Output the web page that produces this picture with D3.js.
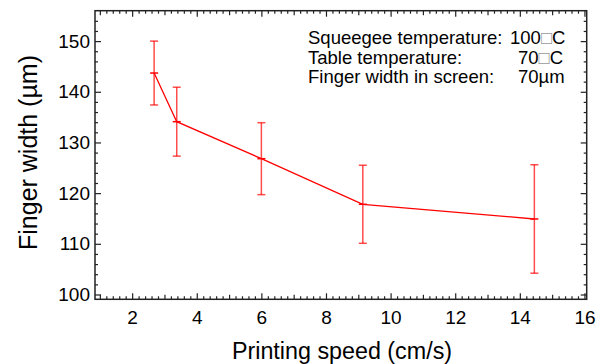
<!DOCTYPE html>
<html>
<head>
<meta charset="utf-8">
<script src="https://cdn.jsdelivr.net/npm/d3@7"></script>
<style>
    body { margin: 0; background: #fff; }
    text { font-family: "Liberation Sans", Arial, sans-serif; fill: #000; }
</style>
</head>
<body>
<div id="chart"></div>
<script>
// data
var speed = [2.68, 3.38, 6.0, 9.14, 14.45];
var fingerWidth = [143.7, 134.1, 126.8, 117.8, 114.9];
var errWidth = [6.3, 6.8, 7.1, 7.7, 10.7];

var xTicks = [2, 4, 6, 8, 10, 12, 14, 16];
var yTicks = [100, 110, 120, 130, 140, 150];

var noteLabels = ["Squeegee temperature:", "Table temperature:", "Finger width in screen:"];
var noteValues = [["100", "\u25A1", "C"], ["70", "\u25A1", "C"], ["70\u00B5m", "", ""]];

var svgWidth = 602;
var svgHeight = 364;

var margin = {
    top: 10.7,
    right: 15.3,
    bottom: 64.7,
    left: 95
};

var height = svgHeight - margin.top - margin.bottom;
var width = svgWidth - margin.left - margin.right;

var svg = d3
    .select("#chart")
    .append("svg")
    .attr("width", svgWidth)
    .attr("height", svgHeight);

var chartGroup = svg.append("g")
    .attr("transform", `translate(${margin.left}, ${margin.top})`);

var xScale = d3.scaleLinear()
    .domain([0.85, 16.07])
    .range([0, width]);

var yScale = d3.scaleLinear()
    .domain([99.05, 156])
    .range([height, 0]);

// minor tick values
var xMinor = d3.range(1, 16.01, 0.2).map(d => Math.round(d * 10) / 10)
    .filter(d => d % 1 !== 0);
var xMid = d3.range(1, 16, 2);
var yMinor = d3.range(100, 156, 2).filter(d => d % 10 !== 0);

function styleAxis(g) {
    g.select(".domain").remove();
    g.selectAll("line").attr("stroke", "#222").attr("stroke-width", 1.2);
    g.selectAll("text").style("font-size", "19px").attr("fill", "#000");
}

// bottom axis
chartGroup.append("g")
    .attr("transform", `translate(0, ${height})`)
    .call(d3.axisBottom(xScale).tickValues(xTicks).tickSize(-6).tickPadding(11))
    .call(styleAxis);
chartGroup.append("g")
    .attr("transform", `translate(0, ${height})`)
    .call(d3.axisBottom(xScale).tickValues(xMinor).tickSize(-3).tickFormat(""))
    .call(styleAxis);
chartGroup.append("g")
    .attr("transform", `translate(0, ${height})`)
    .call(d3.axisBottom(xScale).tickValues(xMid).tickSize(-4.5).tickFormat(""))
    .call(styleAxis);

// top axis (mirror)
chartGroup.append("g")
    .call(d3.axisTop(xScale).tickValues(xTicks).tickSize(-6).tickFormat(""))
    .call(styleAxis);
chartGroup.append("g")
    .call(d3.axisTop(xScale).tickValues(xMinor).tickSize(-3).tickFormat(""))
    .call(styleAxis);
chartGroup.append("g")
    .call(d3.axisTop(xScale).tickValues(xMid).tickSize(-4.5).tickFormat(""))
    .call(styleAxis);

// left axis
chartGroup.append("g")
    .call(d3.axisLeft(yScale).tickValues(yTicks).tickSize(-6).tickPadding(5))
    .call(styleAxis);
chartGroup.append("g")
    .call(d3.axisLeft(yScale).tickValues(yMinor).tickSize(-3).tickFormat(""))
    .call(styleAxis);

// right axis (mirror)
chartGroup.append("g")
    .attr("transform", `translate(${width}, 0)`)
    .call(d3.axisRight(yScale).tickValues(yTicks).tickSize(-6).tickFormat(""))
    .call(styleAxis);
chartGroup.append("g")
    .attr("transform", `translate(${width}, 0)`)
    .call(d3.axisRight(yScale).tickValues(yMinor).tickSize(-3).tickFormat(""))
    .call(styleAxis);

// frame
chartGroup.append("rect")
    .attr("width", width)
    .attr("height", height)
    .attr("fill", "none")
    .attr("stroke", "#222")
    .attr("stroke-width", 1.5);

var data = speed.map((s, i) => ({ x: s, y: fingerWidth[i], e: errWidth[i] }));

// error bars
var errGroup = chartGroup.append("g")
    .attr("stroke", "#ff0000")
    .attr("stroke-opacity", 0.7)
    .attr("stroke-width", 1.5);

errGroup.selectAll(".bar")
    .data(data)
    .enter()
    .append("line")
    .attr("x1", d => xScale(d.x))
    .attr("x2", d => xScale(d.x))
    .attr("y1", d => yScale(d.y - d.e))
    .attr("y2", d => yScale(d.y + d.e));

errGroup.selectAll(".capTop")
    .data(data)
    .enter()
    .append("line")
    .attr("x1", d => xScale(d.x) - 4)
    .attr("x2", d => xScale(d.x) + 4)
    .attr("y1", d => yScale(d.y + d.e))
    .attr("y2", d => yScale(d.y + d.e));

errGroup.selectAll(".capBottom")
    .data(data)
    .enter()
    .append("line")
    .attr("x1", d => xScale(d.x) - 4)
    .attr("x2", d => xScale(d.x) + 4)
    .attr("y1", d => yScale(d.y - d.e))
    .attr("y2", d => yScale(d.y - d.e));

// line through the means
var line = d3.line()
    .x(d => xScale(d.x))
    .y(d => yScale(d.y));

chartGroup.append("path")
    .datum(data)
    .attr("d", line)
    .attr("fill", "none")
    .attr("stroke", "#ff0000")
    .attr("stroke-width", 1.3);

// small mark at each mean
chartGroup.selectAll(".mean")
    .data(data)
    .enter()
    .append("line")
    .attr("x1", d => xScale(d.x) - 4)
    .attr("x2", d => xScale(d.x) + 4)
    .attr("y1", d => yScale(d.y))
    .attr("y2", d => yScale(d.y))
    .attr("stroke", "#ff0000")
    .attr("stroke-width", 1.5);

// note in the corner
var noteX = [308, 308, 308];
var valueX = [510, 518, 518];
var noteY = [44, 63.5, 83];

noteLabels.forEach(function (label, i) {
    svg.append("text")
        .attr("x", noteX[i])
        .attr("y", noteY[i])
        .style("font-size", "18.5px")
        .text(label);

    var v = svg.append("text")
        .attr("x", valueX[i])
        .attr("y", noteY[i])
        .style("font-size", "18.5px");
    v.append("tspan").text(noteValues[i][0]);
    v.append("tspan").attr("fill", "#999").text(noteValues[i][1]);
    v.append("tspan").text(noteValues[i][2]);
});

// axis labels
svg.append("text")
    .attr("x", 342)
    .attr("y", 359)
    .attr("text-anchor", "middle")
    .style("font-size", "23.3px")
    .text("Printing speed (cm/s)");

svg.append("text")
    .attr("transform", "translate(36.5, 152.5) rotate(-90)")
    .attr("text-anchor", "middle")
    .style("font-size", "25px")
    .text("Finger width (\u00B5m)");
</script>
</body>
</html>
